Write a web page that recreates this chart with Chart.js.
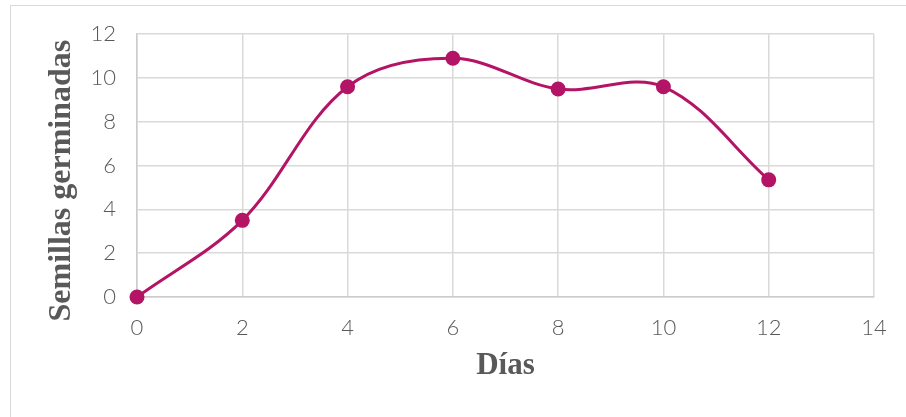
<!DOCTYPE html>
<html>
<head>
<meta charset="utf-8">
<script src="https://cdn.jsdelivr.net/npm/chart.js@4.4.0/dist/chart.umd.min.js"></script>
<style>
  html, body { margin: 0; padding: 0; background: #fff; }
  body { width: 906px; height: 417px; overflow: hidden; position: relative; }
  .frame { position: absolute; left: 10px; top: 5px; width: 930px; height: 450px; border: 1.5px solid #d9d9d9; }
  #chart { position: absolute; left: 0; top: 0; }
</style>
</head>
<body>
<div class="frame"></div>
<canvas id="chart" width="906" height="417"></canvas>
<script>
// datos
const dias = [0, 2, 4, 6, 8, 10, 12];
const semillas = [0, 3.5, 9.6, 10.9, 9.5, 9.6, 5.35];
const tituloX = 'Días';
const tituloY = 'Semillas germinadas';

const colorLinea = '#b31465';
const gris = '#595959';

// el titulo del eje Y va un poco mas abajo que el centro del area (como en Excel)
const yTitlePlugin = {
  id: 'yTitle',
  afterDraw(chart) {
    const {ctx, chartArea} = chart;
    ctx.save();
    ctx.translate(62, (chartArea.top + chartArea.bottom) / 2 + 15);
    ctx.rotate(-Math.PI / 2);
    ctx.font = 'bold 32px "Liberation Serif"';
    ctx.fillStyle = gris;
    ctx.textAlign = 'center';
    ctx.textBaseline = 'middle';
    ctx.fillText(tituloY, 0, 0);
    ctx.restore();
  }
};

new Chart(document.getElementById('chart'), {
  type: 'line',
  data: {
    datasets: [{
      data: dias.map((d, i) => ({x: d, y: semillas[i]})),
      borderColor: colorLinea,
      backgroundColor: colorLinea,
      borderWidth: 3,
      pointRadius: 7.5,
      pointBorderWidth: 0,
      pointBackgroundColor: colorLinea,
      tension: 0.35,
      clip: false
    }]
  },
  options: {
    responsive: false,
    animation: false,
    layout: { padding: { left: 0, top: 34, right: 32, bottom: 0 } },
    plugins: { legend: { display: false }, tooltip: { enabled: false } },
    scales: {
      x: {
        type: 'linear',
        min: 0, max: 14,
        afterFit: s => { s.height = 120; },
        ticks: { stepSize: 2, padding: 18, color: gris, font: { family: 'Lato', size: 22, weight: 300 } },
        grid: { color: '#d9d9d9', lineWidth: 1.5, drawTicks: false },
        border: { color: '#cccccc', width: 1.5 },
        title: { display: true, text: tituloX, color: gris, padding: { top: 0, bottom: 32 },
                 font: { family: 'Liberation Serif', size: 31, weight: 'bold' } }
      },
      y: {
        min: 0, max: 12,
        afterFit: s => { s.width = 137; },
        ticks: { stepSize: 2, padding: 21, color: gris, font: { family: 'Lato', size: 22, weight: 300 } },
        grid: { color: '#d9d9d9', lineWidth: 1.5, drawTicks: false },
        border: { color: '#cccccc', width: 1.5 }
      }
    }
  },
  plugins: [yTitlePlugin]
});
</script>
</body>
</html>
